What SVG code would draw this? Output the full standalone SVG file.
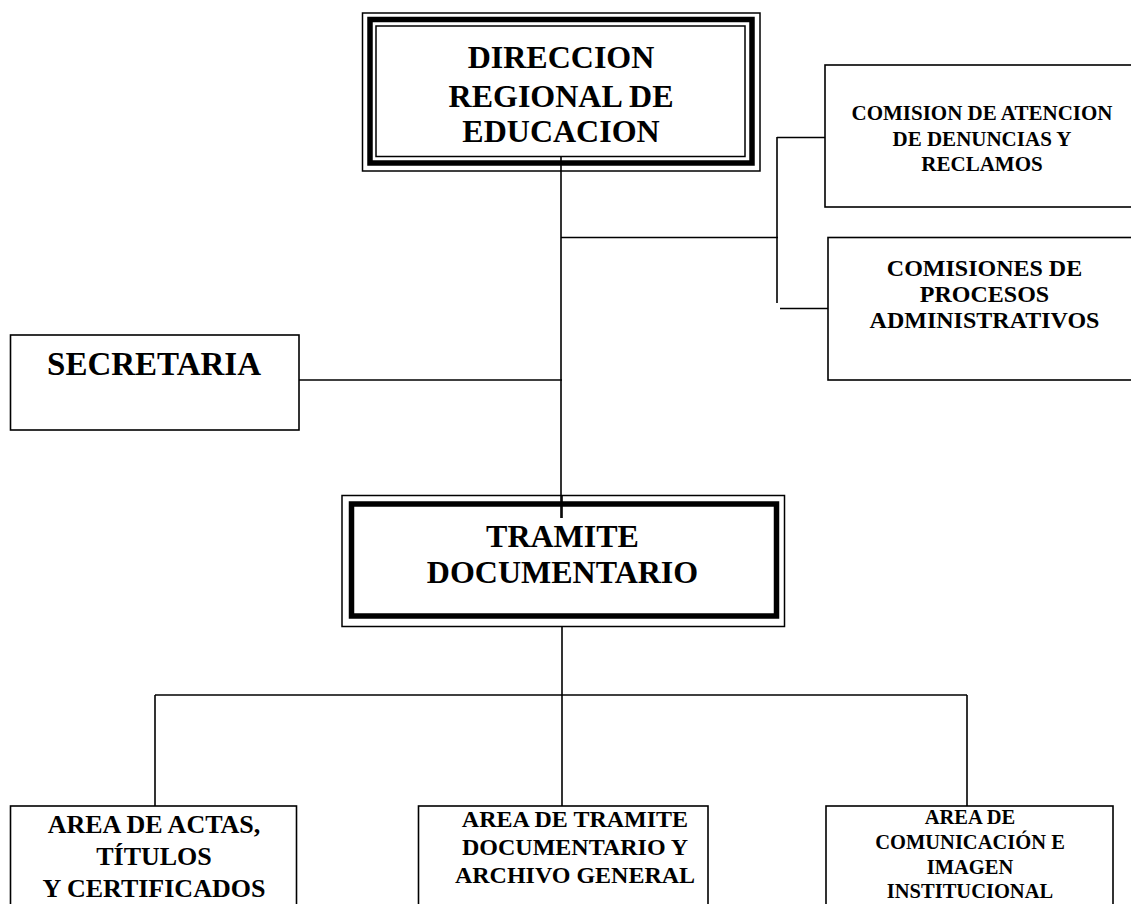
<svg xmlns="http://www.w3.org/2000/svg" width="1131" height="904" viewBox="0 0 1131 904">
<style>
.box{fill:#fff;stroke:#000;stroke-width:1.6}
.thin{fill:none;stroke:#000;stroke-width:1.5}
.thick{fill:none;stroke:#000;stroke-width:5.5}
.ln{fill:none;stroke:#000;stroke-width:1.6}
text{font-family:"Liberation Serif","Times New Roman",serif;font-weight:bold;fill:#000;text-anchor:middle}
</style>
<rect width="1131" height="904" fill="#fff"/>
<g id="connectors">
<line class="ln" x1="561" y1="157" x2="561" y2="518"/>
<line class="ln" x1="561" y1="237.5" x2="778" y2="237.5"/>
<line class="ln" x1="777" y1="137" x2="777" y2="303"/>
<line class="ln" x1="777" y1="137.5" x2="825" y2="137.5"/>
<line class="ln" x1="780" y1="308.5" x2="828" y2="308.5"/>
<line class="ln" x1="299" y1="380" x2="562" y2="380"/>
<line class="ln" x1="562" y1="627" x2="562" y2="806"/>
<line class="ln" x1="155" y1="695" x2="967" y2="695"/>
<line class="ln" x1="155" y1="695" x2="155" y2="806"/>
<line class="ln" x1="967" y1="695" x2="967" y2="806"/>
</g>
<g id="direccion">
<rect class="thin" x="362.5" y="13" width="397.5" height="158"/>
<rect class="thick" x="370" y="19.5" width="382" height="143.5"/>
<rect class="thin" x="376" y="26" width="369" height="130.5"/>
<text x="561" y="68" font-size="32">DIRECCION</text>
<text x="561" y="107" font-size="32">REGIONAL DE</text>
<text x="561" y="142" font-size="32">EDUCACION</text>
</g>
<g id="comision-atencion">
<rect class="box" x="825" y="65" width="320" height="142"/>
<text x="982" y="120" font-size="21">COMISION DE ATENCION</text>
<text x="982" y="146" font-size="21">DE DENUNCIAS Y</text>
<text x="982" y="171" font-size="21">RECLAMOS</text>
</g>
<g id="comisiones-procesos">
<rect class="box" x="828" y="237.5" width="320" height="142.5"/>
<text x="984.5" y="276" font-size="24">COMISIONES DE</text>
<text x="984.5" y="302" font-size="24">PROCESOS</text>
<text x="984.5" y="328" font-size="24">ADMINISTRATIVOS</text>
</g>
<g id="secretaria">
<rect class="box" x="10.5" y="335" width="288.5" height="95"/>
<text x="154" y="375" font-size="33">SECRETARIA</text>
</g>
<g id="tramite">
<rect class="thin" x="342" y="495.5" width="442.5" height="131"/>
<rect class="thick" x="351.5" y="504" width="425" height="112"/>
<line class="ln" x1="562" y1="495" x2="562" y2="518"/>
<text x="562.5" y="547" font-size="32">TRAMITE</text>
<text x="562.5" y="583" font-size="32">DOCUMENTARIO</text>
</g>
<g id="area-actas">
<rect class="box" x="10.5" y="806" width="286" height="110"/>
<text x="154" y="833" font-size="26">AREA DE ACTAS,</text>
<text x="154" y="865" font-size="26">TÍTULOS</text>
<text x="154" y="897" font-size="26">Y CERTIFICADOS</text>
</g>
<g id="area-tramite">
<rect class="box" x="418.5" y="806" width="289.5" height="110"/>
<text x="575" y="827" font-size="24">AREA DE TRAMITE</text>
<text x="575" y="855" font-size="24">DOCUMENTARIO Y</text>
<text x="575" y="883" font-size="24">ARCHIVO GENERAL</text>
</g>
<g id="area-comunicacion">
<rect class="box" x="826" y="806" width="287" height="110"/>
<text x="970" y="824" font-size="20.5">AREA DE</text>
<text x="970" y="849" font-size="20.5">COMUNICACIÓN E</text>
<text x="970" y="874" font-size="20.5">IMAGEN</text>
<text x="970" y="898" font-size="20.5">INSTITUCIONAL</text>
</g>
</svg>
